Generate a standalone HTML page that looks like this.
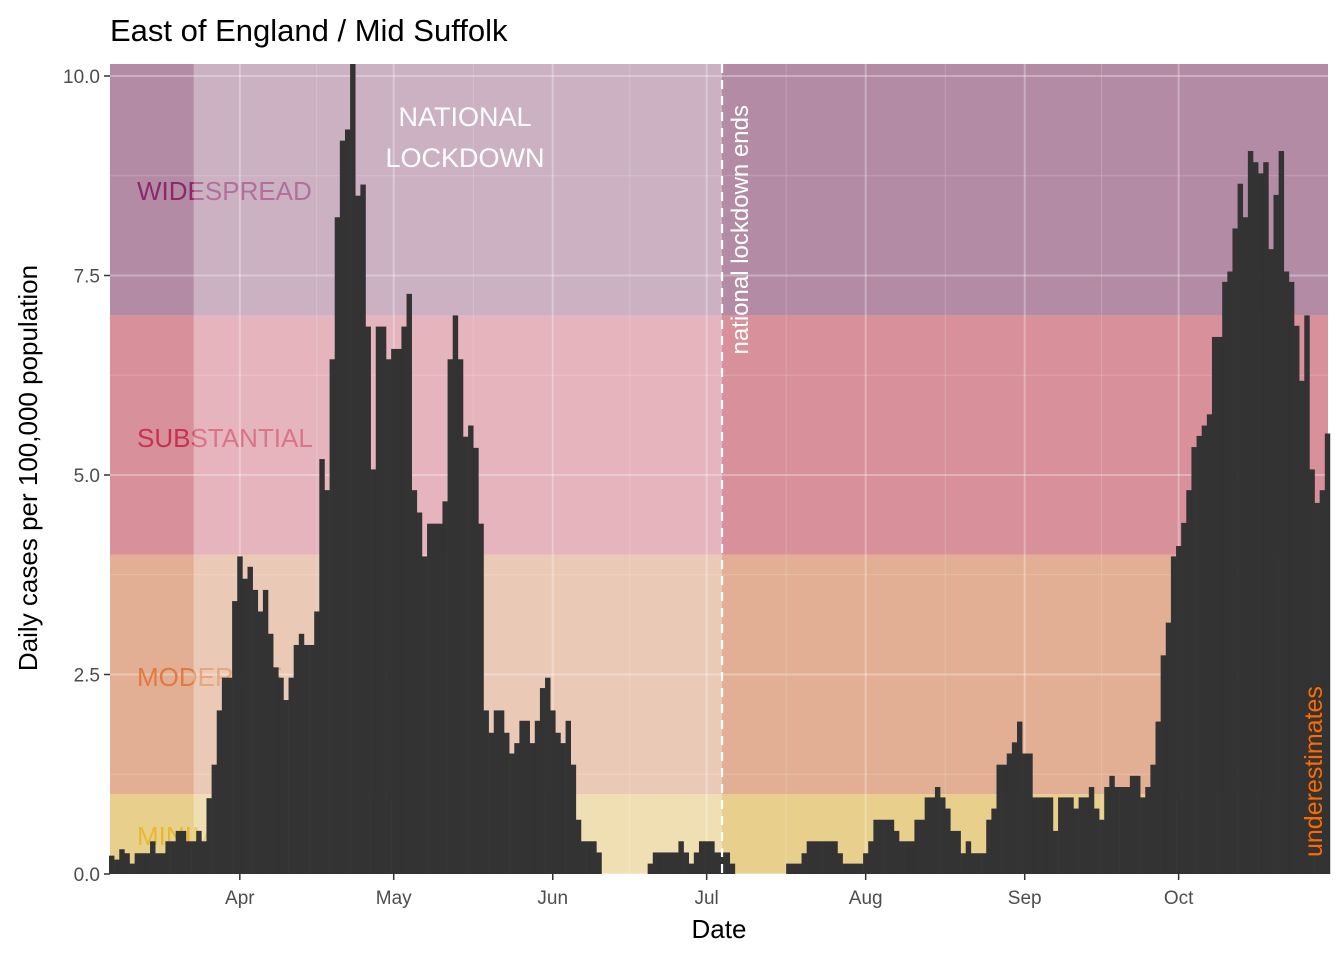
<!DOCTYPE html>
<html><head><meta charset="utf-8"><style>
body{margin:0;background:#fff;}
svg text{font-family:"Liberation Sans",sans-serif;}
</style></head><body>
<svg id="chart" width="1344" height="960" xmlns="http://www.w3.org/2000/svg">
<text x="110" y="41" font-size="31" fill="#000">East of England / Mid Suffolk</text>
<g id="panel"></g>
<text x="719" y="938" font-size="26" text-anchor="middle" fill="#000">Date</text>
<text transform="translate(37,468) rotate(-90)" font-size="26" text-anchor="middle" fill="#000">Daily cases per 100,000 population</text>
</svg>
<script>
const startDate = "2020-03-07";
const values = [0.23,0.18,0.31,0.26,0.13,0.26,0.26,0.26,0.41,0.26,0.26,0.41,0.41,0.54,0.54,0.41,0.41,0.54,0.41,0.95,
1.37,2.05,2.46,2.46,3.42,3.98,3.70,3.85,3.56,3.29,3.56,3.01,2.59,2.46,2.18,2.46,2.87,3.01,2.87,2.87,
3.29,5.20,4.81,6.45,8.23,9.19,9.33,10.16,8.50,8.64,6.86,5.07,6.86,6.86,6.45,6.58,6.58,6.86,7.27,4.81,
4.53,3.98,4.39,4.39,4.39,4.67,6.45,7.00,6.45,5.48,5.62,5.34,4.39,2.05,1.77,2.05,2.05,1.77,1.51,1.64,
1.92,1.92,1.64,1.92,2.33,2.46,2.05,1.77,1.64,1.92,1.37,0.68,0.41,0.41,0.41,0.27,0,0,0,0,
0,0,0,0,0,0.13,0.27,0.27,0.27,0.27,0.27,0.41,0.27,0.13,0.27,0.41,0.41,0.41,0.27,0.27,
0.27,0.13,0,0,0,0,0,0,0,0,0,0,0.13,0.13,0.13,0.26,0.41,0.41,0.41,0.41,
0.41,0.41,0.26,0.13,0.13,0.13,0.13,0.26,0.41,0.68,0.68,0.68,0.68,0.54,0.41,0.41,0.41,0.68,0.68,0.96,
0.96,1.09,0.96,0.82,0.54,0.54,0.26,0.41,0.26,0.26,0.26,0.68,0.82,1.37,1.37,1.51,1.65,1.91,1.51,1.51,
0.96,0.96,0.96,0.96,0.54,0.96,0.96,0.96,0.82,0.96,0.96,1.09,0.82,0.68,1.09,1.23,1.09,1.09,1.09,1.23,
1.23,0.96,1.09,1.37,1.91,2.74,3.15,3.98,4.11,4.40,4.81,5.35,5.49,5.62,5.76,6.73,6.73,7.42,7.55,8.09,
8.65,8.23,9.06,8.92,8.78,8.92,7.83,8.51,9.06,7.55,7.42,6.87,6.18,7.00,5.07,4.65,4.81,5.52];
const yTicks = [0,2.5,5,7.5,10];
const yTickLabels = ["0.0","2.5","5.0","7.5","10.0"];
const xTickDates = ["2020-04-01","2020-05-01","2020-06-01","2020-07-01","2020-08-01","2020-09-01","2020-10-01"];
const xTickLabels = ["Apr","May","Jun","Jul","Aug","Sep","Oct"];
const levelBounds = [0,1,4,7,10.2];
const levelNames = ["MINIMAL","MODERATE","SUBSTANTIAL","WIDESPREAD"];
const lockdownStart = "2020-03-23";
const lockdownEnd = "2020-07-04";

const NS="http://www.w3.org/2000/svg";
const L=109, STEP=5.13, R=1328, TOP=64, BOT=874;
const day0=Date.parse(startDate);
function dayIdx(d){return Math.round((Date.parse(d)-day0)/86400000);}
function xs(i){return L+STEP*i;}
function ys(v){return BOT-v*79.8;}
const panel=document.getElementById('panel');
const svg=document.getElementById('chart');
function mk(tag,attrs,parent){const e=document.createElementNS(NS,tag);for(const k in attrs)e.setAttribute(k,attrs[k]);(parent||panel).appendChild(e);return e;}
const bandColors=["#e8d08c","#e2af94","#d8909b","#b38ba5"];
const labelColors=["#e8b830","#e07a3e","#c8314f","#8b2a6b"];
for(let k=0;k<4;k++){
  const y1=Math.max(TOP,ys(levelBounds[k+1])), y0=ys(levelBounds[k]);
  const r=mk('rect',{x:110,y:y1,width:R-110,height:y0-y1,fill:bandColors[k]});
  
  
}
// grid
const minor=[1.25,3.75,6.25,8.75];
minor.forEach(v=>{const g=mk('line',{x1:110,x2:R,y1:ys(v),y2:ys(v),stroke:"#fff","stroke-opacity":0.18,"stroke-width":1});

});
yTicks.forEach(v=>{const g=mk('line',{x1:110,x2:R,y1:ys(v),y2:ys(v),stroke:"#fff","stroke-opacity":0.3,"stroke-width":2});

});
xTickDates.forEach((d,j)=>{const x=xs(dayIdx(d)+0.5);
const g=mk('line',{x1:x,x2:x,y1:TOP,y2:BOT,stroke:"#fff","stroke-opacity":0.3,"stroke-width":2});


if(j<xTickDates.length-1){const x2=(x+xs(dayIdx(xTickDates[j+1])+0.5))/2;
const m=mk('line',{x1:x2,x2:x2,y1:TOP,y2:BOT,stroke:"#fff","stroke-opacity":0.18,"stroke-width":1});

}});
// level labels
const labelY=[845,686,447,200];
for(let k=0;k<4;k++){const t=mk('text',{x:137,y:labelY[k],"font-size":26,fill:labelColors[k]});
t.textContent=levelNames[k];

}
// lockdown overlay
const lx0=xs(dayIdx(lockdownStart)+0.5), lx1=xs(dayIdx(lockdownEnd)+0.5);
const ov=mk('rect',{x:lx0,y:TOP,width:lx1-lx0,height:BOT-TOP,fill:"#fff","fill-opacity":0.33});


// bars
values.forEach((v,i)=>{if(v<=0)return;const y=Math.max(TOP,ys(v));
const b=mk('rect',{x:xs(i),y:y,width:STEP+0.3,height:BOT-y,fill:"#333333"});

});
// lockdown end line
const dl=mk('line',{x1:lx1,x2:lx1,y1:TOP,y2:BOT,stroke:"#fff","stroke-width":2.2,"stroke-dasharray":"9,7"});


const t1=mk('text',{x:465,y:126,"font-size":27,fill:"#fff","text-anchor":"middle"});t1.textContent="NATIONAL";


const t2=mk('text',{x:465,y:167,"font-size":27,fill:"#fff","text-anchor":"middle"});t2.textContent="LOCKDOWN";


const t3=mk('text',{transform:`translate(${lx1+26},105) rotate(-90)`,"font-size":24,fill:"#fff","text-anchor":"end"});t3.textContent="national lockdown ends";


const t4=mk('text',{transform:"translate(1322,857) rotate(-90)","font-size":25,fill:"#ff6a00"});t4.textContent="underestimates";


// axes ticks
yTicks.forEach((v,j)=>{const y=ys(v);
const tk=mk('line',{x1:104,x2:110,y1:y,y2:y,stroke:"#333","stroke-width":1.5},svg);


const tl=mk('text',{x:100,y:y+7,"font-size":19,fill:"#4d4d4d","text-anchor":"end"},svg);tl.textContent=yTickLabels[j];

});
xTickDates.forEach((d,j)=>{const x=xs(dayIdx(d)+0.5);
const tk=mk('line',{x1:x,x2:x,y1:874,y2:880,stroke:"#333","stroke-width":1.5},svg);


const tl=mk('text',{x:x,y:904,"font-size":19,fill:"#4d4d4d","text-anchor":"middle"},svg);tl.textContent=xTickLabels[j];

});
</script>
</body></html>
